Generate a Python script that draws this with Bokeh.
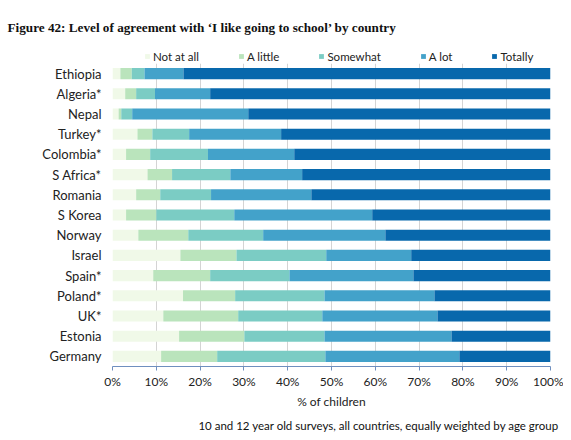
from bokeh.plotting import figure
from bokeh.layouts import column
from bokeh.models import ColumnDataSource, Label, Legend, LegendItem, FixedTicker, PrintfTickFormatter
from bokeh.embed import file_html
from bokeh.resources import INLINE

# data (% of children)
countries = ["Ethiopia", "Algeria*", "Nepal", "Turkey*", "Colombia*", "S Africa*", "Romania",
             "S Korea", "Norway", "Israel", "Spain*", "Poland*", "UK*", "Estonia", "Germany"]
not_at_all = [1.8, 2.9, 1.4, 5.7, 3.1, 8.0, 5.4, 3.1, 5.9, 15.5, 9.3, 16.1, 11.6, 15.2, 11.1]
a_little = [2.6, 2.5, 0.6, 3.4, 5.5, 5.6, 5.5, 6.9, 11.4, 12.8, 13.0, 11.9, 17.1, 14.9, 12.8]
somewhat = [2.9, 4.3, 2.5, 8.4, 13.2, 13.3, 11.6, 17.8, 17.1, 20.5, 18.1, 20.4, 19.2, 18.3, 24.7]
a_lot = [8.9, 12.6, 26.5, 21.0, 19.7, 16.4, 22.9, 31.5, 27.9, 19.4, 28.3, 25.1, 26.3, 29.0, 30.6]
totally = [83.8, 77.7, 69.0, 61.5, 58.5, 56.7, 54.6, 40.7, 37.7, 31.8, 31.3, 26.5, 25.8, 22.6, 20.8]

levels = ["Not at all", "A little", "Somewhat", "A lot", "Totally"]
fields = ["not_at_all", "a_little", "somewhat", "a_lot", "totally"]
colors = ["#f0f9e8", "#bae4bc", "#7bccc4", "#43a2ca", "#0868ac"]
x_ticks = [0, 10, 20, 30, 40, 50, 60, 70, 80, 90, 100]

source = ColumnDataSource(dict(country=countries, not_at_all=not_at_all, a_little=a_little,
                               somewhat=somewhat, a_lot=a_lot, totally=totally))

sans = "Lato"
W = 563


def blank(height):
    # strip of pure screen space: frame = whole canvas, y grows downwards like pixels
    f = figure(width=W, height=height, x_range=(0, W), y_range=(height, 0),
               x_axis_type=None, y_axis_type=None, output_backend="svg", toolbar_location=None,
               min_border=0, frame_align=False)
    f.outline_line_color = None
    f.xgrid.visible = False
    f.ygrid.visible = False
    return f


# header: title + legend
head = blank(63)
head.add_layout(Label(x=7, y=27, text_baseline="alphabetic",
                      text="Figure 42: Level of agreement with \u2018I like going to school\u2019 by country",
                      text_font="Liberation Serif", text_font_style="bold", text_font_size="13.2px",
                      text_color="#111111"))
# zero-size proxies so the legend in the header has something to draw its swatches from
swatches = [head.hbar(y=[0], left=[0], right=[0], height=0, color=c, line_color=None) for c in colors]
items = [LegendItem(label=l, renderers=[r]) for l, r in zip(levels, swatches)]
legend = Legend(items=items, orientation="horizontal", location=(144, 0),
                glyph_width=6, glyph_height=6, label_standoff=3, spacing=39, padding=0, margin=0,
                label_height=14, label_text_font=sans, label_text_font_size="11.5px",
                label_text_color="#222222", background_fill_alpha=0, border_line_alpha=0)
head.add_layout(legend)

# main chart
p = figure(width=W, height=350, y_range=list(reversed(countries)), x_range=(0, 100),
           output_backend="svg", toolbar_location=None, frame_align=False,
           min_border_left=112, min_border_right=13, min_border_top=0, min_border_bottom=47)
p.outline_line_color = None

p.hbar_stack(fields, y="country", height=0.55, color=colors, line_color=None, source=source)

p.xaxis.ticker = FixedTicker(ticks=x_ticks)
p.xaxis.formatter = PrintfTickFormatter(format="%d%%")
p.xaxis.minor_tick_line_color = None
p.xaxis.axis_line_color = "#6f8fbf"
p.xaxis.major_tick_line_color = "#6f8fbf"
p.xaxis.major_tick_in = 0
p.xaxis.major_tick_out = 4
p.xaxis.major_label_standoff = 3
p.xaxis.major_label_text_font = sans
p.xaxis.major_label_text_font_size = "12px"
p.xaxis.major_label_text_color = "#222222"
p.xaxis.axis_label = "% of children"
p.xaxis.axis_label_text_font = sans
p.xaxis.axis_label_text_font_style = "normal"
p.xaxis.axis_label_text_font_size = "12px"
p.xaxis.axis_label_text_color = "#222222"
p.xaxis.axis_label_standoff = 2

p.yaxis.axis_line_color = None
p.yaxis.major_tick_line_color = None
p.yaxis.minor_tick_line_color = None
p.yaxis.major_tick_out = 0
p.yaxis.major_label_standoff = 11
p.yaxis.major_label_text_font = sans
p.yaxis.major_label_text_font_size = "13px"
p.yaxis.major_label_text_color = "#222222"

p.xgrid.grid_line_color = "#d4d4d4"
p.ygrid.grid_line_color = None

# footer: source note
foot = blank(19)
foot.add_layout(Label(x=559, y=12, text_align="right", text_baseline="alphabetic",
                      text="10 and 12 year old surveys, all countries, equally weighted by age group",
                      text_font=sans, text_font_size="11.5px", text_color="#111111"))

layout = column(head, p, foot, spacing=0)

open("out.html", "w").write(file_html(layout, INLINE))
